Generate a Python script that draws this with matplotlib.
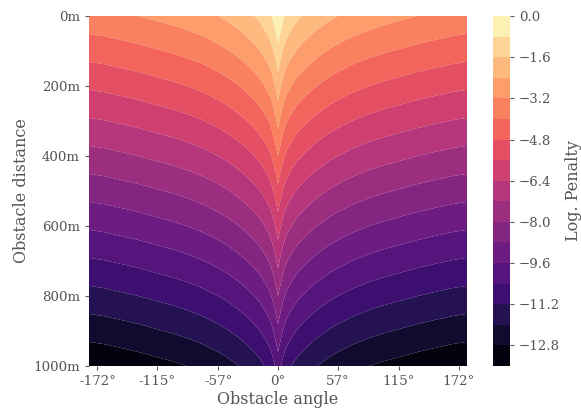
import numpy as np
import matplotlib
matplotlib.use("Agg")
import matplotlib.pyplot as plt

# angles in degrees, only one side is read, the picture is symmetric
half_angles = [0, 1, 2, 4, 6, 9, 14, 18, 22, 30, 38, 48, 57, 70, 85, 100, 116, 133, 150, 165, 180]
distances = [0, 100, 200, 300, 400, 500, 600, 700, 800, 900, 1000]

penalty_0m = [0.00, -0.14, -0.28, -0.54, -0.77, -1.00, -1.26, -1.44, -1.58, -1.82, -2.02, -2.24, -2.40, -2.60, -2.78, -2.93, -3.06, -3.20, -3.32, -3.42, -3.49]
penalty_100m = [-1.00, -1.14, -1.28, -1.54, -1.77, -2.00, -2.26, -2.44, -2.58, -2.82, -3.02, -3.24, -3.40, -3.60, -3.78, -3.93, -4.06, -4.20, -4.32, -4.42, -4.49]
penalty_200m = [-2.00, -2.14, -2.28, -2.54, -2.77, -3.00, -3.26, -3.44, -3.58, -3.82, -4.02, -4.24, -4.40, -4.60, -4.78, -4.93, -5.06, -5.20, -5.32, -5.42, -5.49]
penalty_300m = [-3.00, -3.14, -3.28, -3.54, -3.77, -4.00, -4.26, -4.44, -4.58, -4.82, -5.02, -5.24, -5.40, -5.60, -5.78, -5.93, -6.06, -6.20, -6.32, -6.42, -6.49]
penalty_400m = [-4.00, -4.14, -4.28, -4.54, -4.77, -5.00, -5.26, -5.44, -5.58, -5.82, -6.02, -6.24, -6.40, -6.60, -6.78, -6.93, -7.06, -7.20, -7.32, -7.42, -7.49]
penalty_500m = [-5.00, -5.14, -5.28, -5.54, -5.77, -6.00, -6.26, -6.44, -6.58, -6.82, -7.02, -7.24, -7.40, -7.60, -7.78, -7.93, -8.06, -8.20, -8.32, -8.42, -8.49]
penalty_600m = [-6.00, -6.14, -6.28, -6.54, -6.77, -7.00, -7.26, -7.44, -7.58, -7.82, -8.02, -8.24, -8.40, -8.60, -8.78, -8.93, -9.06, -9.20, -9.32, -9.42, -9.49]
penalty_700m = [-7.00, -7.14, -7.28, -7.54, -7.77, -8.00, -8.26, -8.44, -8.58, -8.82, -9.02, -9.24, -9.40, -9.60, -9.78, -9.93, -10.06, -10.20, -10.32, -10.42, -10.49]
penalty_800m = [-8.00, -8.14, -8.28, -8.54, -8.77, -9.00, -9.26, -9.44, -9.58, -9.82, -10.02, -10.24, -10.40, -10.60, -10.78, -10.93, -11.06, -11.20, -11.32, -11.42, -11.49]
penalty_900m = [-9.00, -9.14, -9.28, -9.54, -9.77, -10.00, -10.26, -10.44, -10.58, -10.82, -11.02, -11.24, -11.40, -11.60, -11.78, -11.93, -12.06, -12.20, -12.32, -12.42, -12.49]
penalty_1000m = [-10.00, -10.14, -10.28, -10.54, -10.77, -11.00, -11.26, -11.44, -11.58, -11.82, -12.02, -12.24, -12.40, -12.60, -12.78, -12.93, -13.06, -13.20, -13.32, -13.42, -13.49]

levels = [-13.6, -12.8, -12.0, -11.2, -10.4, -9.6, -8.8, -8.0, -7.2, -6.4, -5.6, -4.8, -4.0, -3.2, -2.4, -1.6, -0.8, 0.0]
angle_ticks = [-172, -115, -57, 0, 57, 115, 172]
distance_ticks = [0, 200, 400, 600, 800, 1000]
cbar_ticks = [0.0, -1.6, -3.2, -4.8, -6.4, -8.0, -9.6, -11.2, -12.8]

TEXT_COLOR = "#555555"

half = np.array([penalty_0m, penalty_100m, penalty_200m, penalty_300m, penalty_400m, penalty_500m,
                 penalty_600m, penalty_700m, penalty_800m, penalty_900m, penalty_1000m])
grid = np.hstack([half[:, :0:-1], half])
angles = np.concatenate([-np.array(half_angles[:0:-1]), half_angles])

plt.rcParams["font.family"] = "DejaVu Serif"
plt.rcParams["font.size"] = 9.6

fig = plt.figure(figsize=(5.81, 4.09), dpi=100)
ax = fig.add_axes([89 / 581, 1 - 366 / 409, 378 / 581, 350 / 409], facecolor="#E5E5E5")
cs = ax.contourf(angles, distances, grid, levels=levels, cmap="magma", antialiased=True)
ax.set_ylim(1000, 0)
ax.set_xlim(-180, 180)

ax.set_xticks(angle_ticks)
ax.set_xticklabels([f"{a}°" for a in angle_ticks])
ax.set_yticks(distance_ticks)
ax.set_yticklabels([f"{d}m" for d in distance_ticks])
ax.tick_params(colors=TEXT_COLOR, length=3, width=0.8, labelcolor=TEXT_COLOR)
ax.set_xlabel("Obstacle angle", color=TEXT_COLOR, fontsize=11.5, labelpad=2.5)
ax.set_ylabel("Obstacle distance", color=TEXT_COLOR, fontsize=11.5, labelpad=2)
for spine in ax.spines.values():
    spine.set_visible(False)

cax = fig.add_axes([493 / 581, 1 - 366 / 409, 17 / 581, 350 / 409])
cbar = fig.colorbar(cs, cax=cax, ticks=cbar_ticks)
cbar.outline.set_visible(False)
cbar.ax.tick_params(colors=TEXT_COLOR, length=3, width=0.8, labelcolor=TEXT_COLOR)
cbar.set_label("Log. Penalty", color=TEXT_COLOR, fontsize=11.5, labelpad=3.5)

fig.savefig("out.png", dpi=100)
